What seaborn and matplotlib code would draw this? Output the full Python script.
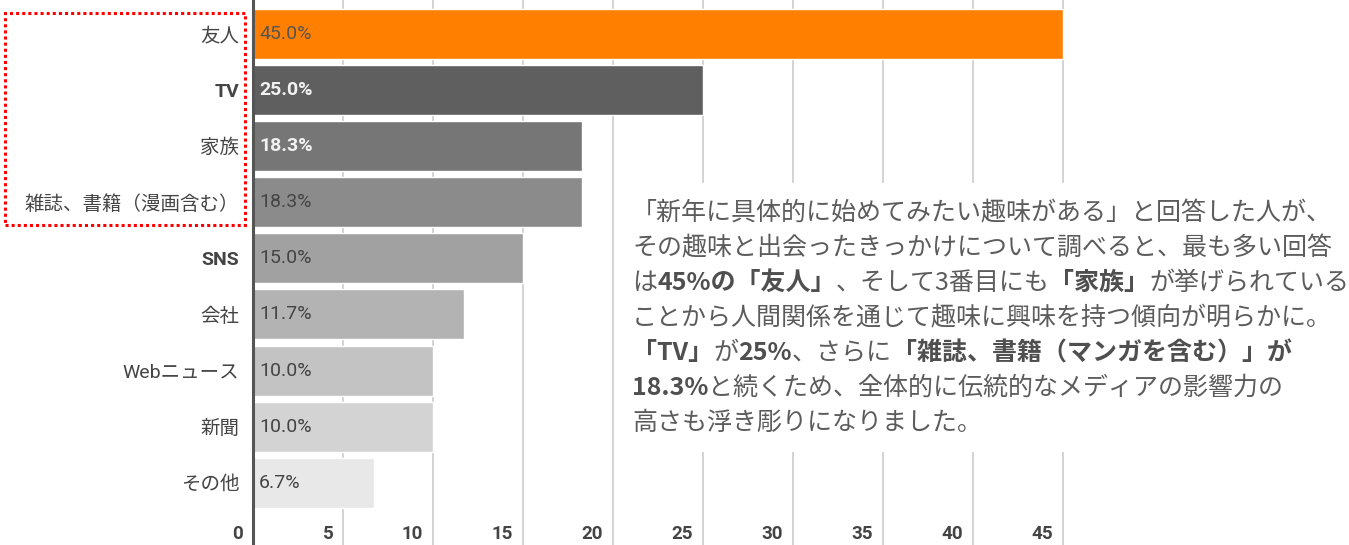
import matplotlib
matplotlib.use('Agg')
import matplotlib.pyplot as plt
import matplotlib.transforms as mtransforms
from matplotlib.patches import Rectangle
import pandas as pd
import seaborn as sns

# data
categories = ['友人', 'TV', '家族', '雑誌、書籍（漫画含む）', 'SNS', '会社', 'Webニュース', '新聞', 'その他']
shares = [45.0, 25.0, 18.3, 18.3, 15.0, 11.7, 10.0, 10.0, 6.7]
bar_colors = ['#ff8000', '#5f5f5f', '#767676', '#8b8b8b', '#a1a1a1',
              '#b3b3b3', '#c3c3c3', '#d3d3d3', '#e8e8e8']
value_colors = ['#555555', '#f2f2f2', '#f2f2f2', '#444444', '#444444',
                '#444444', '#444444', '#444444', '#444444']
x_ticks = [0, 5, 10, 15, 20, 25, 30, 35, 40, 45]

# comment paragraph, (text, bold) segments per line
comment_lines = [
    [('「新年に具体的に始めてみたい趣味がある」と回答した人が、', False)],
    [('その趣味と出会ったきっかけについて調べると、最も多い回答', False)],
    [('は', False), ('45%の「友人」', True), ('、そして3番目にも', False),
     ('「家族」', True), ('が挙げられている', False)],
    [('ことから人間関係を通じて趣味に興味を持つ傾向が明らかに。', False)],
    [('「TV」', True), ('が', False), ('25%', True), ('、さらに', False),
     ('「雑誌、書籍（マンガを含む）」が', True)],
    [('18.3%', True), ('と続くため、全体的に伝統的なメディアの影響力の', False)],
    [('高さも浮き彫りになりました。', False)],
]

sns.set_theme(style='white')
plt.rcParams['font.family'] = ['Roboto', 'Noto Sans CJK JP']

df = pd.DataFrame({'category': categories, 'share': shares})

W, H = 1349, 545
fig = plt.figure(figsize=(W / 100, H / 100), dpi=100)
x0 = 253
ax = fig.add_axes([x0 / W, 0, (45.3 * 18) / W, 1])

sns.barplot(data=df, y='category', x='share', hue='category', palette=bar_colors,
            legend=False, orient='h', width=0.89, saturation=1, ax=ax, zorder=2)

ax.set_xlim(0, 45.3)
ax.set_ylim(9.11, -0.606)
ax.set_xticks(x_ticks)
ax.set_xticklabels([str(t) for t in x_ticks])
ax.grid(axis='x', color='#cccccc', lw=1.2)
ax.grid(axis='y', visible=False)
ax.set_axisbelow(True)
for s in ['top', 'right', 'bottom']:
    ax.spines[s].set_visible(False)
ax.spines['left'].set_color('#555555')
ax.spines['left'].set_linewidth(2.2)
ax.spines['left'].set_zorder(3)
ax.set_xlabel('')
ax.set_ylabel('')

ax.tick_params(axis='x', direction='in', length=0, pad=-14.4, labelsize=13.5, labelcolor='#444444')
ax.tick_params(axis='y', length=0, pad=10, labelsize=14, labelcolor='#444444')
shift = mtransforms.ScaledTranslation(-7 / 72, 0, fig.dpi_scale_trans)
for lab in ax.get_xticklabels():
    lab.set_horizontalalignment('right')
    lab.set_fontweight('bold')
    lab.set_transform(lab.get_transform() + shift)
for lab in ax.get_yticklabels():
    if lab.get_text() in ('TV', 'SNS'):
        lab.set_fontweight('bold')

# value labels at the start of each bar
for i, v in enumerate(shares):
    ax.text(0.33, i, f'{v:.1f}%', va='center', ha='left', fontsize=14,
            color=value_colors[i],
            fontweight='bold' if value_colors[i] == '#f2f2f2' else 'normal', zorder=4)

# white comment box
fig.add_artist(Rectangle((615 / W, (H - 452) / H), (W - 615) / W, (452 - 183) / H,
                         transform=fig.transFigure, facecolor='white',
                         edgecolor='none', zorder=5))

renderer = fig.canvas.get_renderer()
line_y = 213
for segs in comment_lines:
    x = 632
    for txt, bold in segs:
        t = fig.text(x / W, 1 - line_y / H, txt, fontsize=18,
                     family=['Noto Sans CJK JP'],
                     weight='bold' if bold else 'normal',
                     color='#4f4f4f' if bold else '#5c5c5c',
                     va='center', ha='left', zorder=6)
        x += t.get_window_extent(renderer).width
    line_y += 35

# red dotted frame around the labels
fig.add_artist(Rectangle((5 / W, (H - 225) / H), 240 / W, 212 / H,
                         transform=fig.transFigure, fill=False, edgecolor='#ff0000',
                         lw=2.2, linestyle=(0, (1, 1)), zorder=7))

fig.savefig('out.png', dpi=100)
